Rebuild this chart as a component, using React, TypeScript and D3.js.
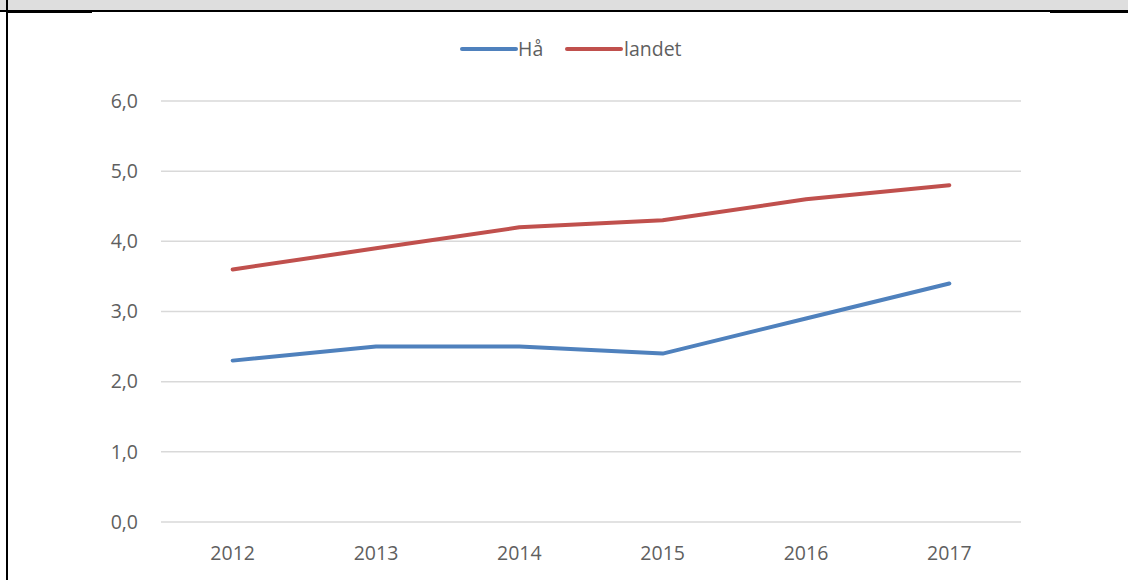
import React from "react";
import * as d3 from "d3";

const years = ["2012", "2013", "2014", "2015", "2016", "2017"];
const haValues = [2.3, 2.5, 2.5, 2.4, 2.9, 3.4];
const landetValues = [3.6, 3.9, 4.2, 4.3, 4.6, 4.8];
const yTicks = [0, 1, 2, 3, 4, 5, 6];
const seriesNames = ["Hå", "landet"];

const W = 1128;
const H = 580;

export default function App() {
  const x = d3.scaleBand<string>().domain(years).range([161, 1021]);
  const y = d3.scaleLinear().domain([0, 6]).range([522, 101]);
  const line = d3
    .line<number>()
    .x((_, i) => (x(years[i]) as number) + x.bandwidth() / 2)
    .y((d) => y(d));
  const fmt = (v: number) => v.toFixed(1).replace(".", ",");
  const font = "'Open Sans', 'DejaVu Sans', sans-serif";
  const fs = 19.5;
  const txtColor = "#5f5f5f";
  const series = [
    { name: seriesNames[0], values: haValues, color: "#4F81BD" },
    { name: seriesNames[1], values: landetValues, color: "#C0504D" },
  ];
  const legend = [
    { x1: 462, x2: 516, tx: 518 },
    { x1: 567, x2: 621, tx: 624 },
  ];
  return (
    <div style={{ position: "absolute", left: 0, top: 0 }}>
      <svg width={W} height={H} style={{ display: "block" }}>
        <rect x={0} y={0} width={W} height={H} fill="#ffffff" />
        <rect x={0} y={0} width={W} height={10} fill="#dedede" />
        <rect x={0} y={10} width={W} height={2} fill="#000" />
        <rect x={6} y={10} width={86} height={3} fill="#000" />
        <rect x={1050} y={10} width={78} height={3} fill="#000" />
        <rect x={6} y={0} width={2} height={H} fill="#000" />
        {yTicks.map((t) => (
          <g key={t}>
            <line x1={161} x2={1021} y1={y(t)} y2={y(t)} stroke="#d9d9d9" strokeWidth={1.5} />
            <text x={138} y={y(t)} dy="0.35em" textAnchor="end" fontFamily={font} fontSize={fs} fill={txtColor}>
              {fmt(t)}
            </text>
          </g>
        ))}
        {years.map((yr) => (
          <text key={yr} x={(x(yr) as number) + x.bandwidth() / 2} y={553} dy="0.35em" textAnchor="middle" fontFamily={font} fontSize={fs} fill={txtColor}>
            {yr}
          </text>
        ))}
        {series.map((s) => (
          <path key={s.name} d={line(s.values) || ""} fill="none" stroke={s.color} strokeWidth={4} strokeLinejoin="round" strokeLinecap="round" />
        ))}
        {series.map((s, i) => (
          <g key={s.name}>
            <line x1={legend[i].x1} x2={legend[i].x2} y1={49} y2={49} stroke={s.color} strokeWidth={4} strokeLinecap="round" />
            <text x={legend[i].tx} y={49} dy="0.35em" fontFamily={font} fontSize={fs} fill={txtColor}>
              {s.name}
            </text>
          </g>
        ))}
      </svg>
    </div>
  );
}
